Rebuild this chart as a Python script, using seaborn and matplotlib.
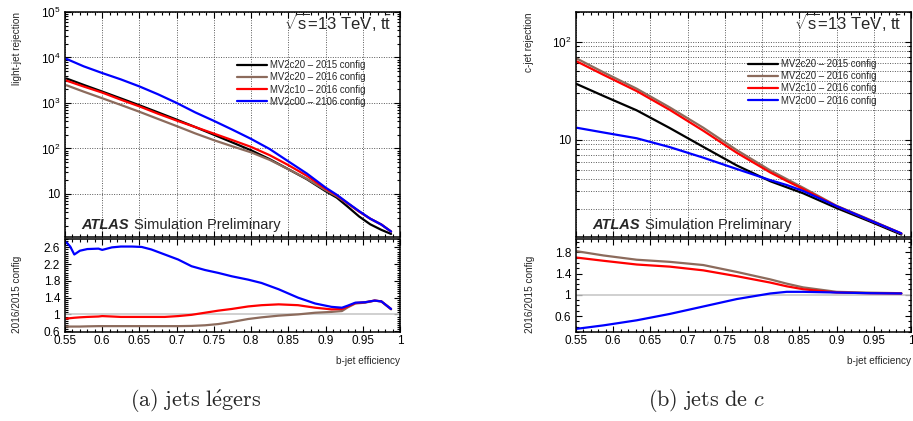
import numpy as np
import pandas as pd
import matplotlib
matplotlib.use("Agg")
import matplotlib.pyplot as plt
import seaborn as sns
from matplotlib.ticker import (FixedLocator, LogLocator, MultipleLocator,
                               NullFormatter, FuncFormatter)

# ---------------- data ----------------
labels_light = ["MV2c20 – 2015 config", "MV2c20 – 2016 config",
                "MV2c10 – 2016 config", "MV2c00 – 2106 config"]
labels_c = ["MV2c20 – 2015 config", "MV2c20 – 2016 config",
            "MV2c10 – 2016 config", "MV2c00 – 2016 config"]
line_colors = ["#000000", "#8c6b5c", "#ff0000", "#0000ff"]

# (a) light-jet rejection vs b-jet efficiency
eff_light = [0.552, 0.575, 0.60, 0.625, 0.65, 0.675, 0.70, 0.725, 0.75, 0.775, 0.80,
             0.825, 0.85, 0.875, 0.90, 0.915, 0.93, 0.945, 0.96, 0.975, 0.988]
light_c20_2015 = [3450, 2500, 1780, 1260, 890, 620, 430, 295, 200, 135, 91,
                  58, 35, 21, 11.5, 8.3, 5.2, 3.2, 2.15, 1.62, 1.32]
light_c20_2016 = [2450, 1775, 1270, 905, 640, 445, 310, 214, 152, 111, 82,
                  56, 35, 21.4, 12.1, 8.9, 6.1, 4.1, 2.84, 2.12, 1.48]
light_c10_2016 = [3100, 2300, 1690, 1180, 840, 580, 410, 295, 212, 152, 108,
                  71, 43, 25, 13.0, 9.3, 6.2, 4.1, 2.86, 2.12, 1.49]
light_c00_2016 = [9300, 6400, 4550, 3300, 2310, 1550, 1000, 620, 404, 258, 162,
                  97, 52, 28, 13.8, 9.6, 6.3, 4.2, 2.86, 2.12, 1.49]

# (a) ratio 2016/2015
eff_light_ratio = [0.552, 0.557, 0.5625, 0.57, 0.58, 0.595, 0.60, 0.613, 0.625, 0.64,
                   0.653, 0.666, 0.684, 0.702, 0.72, 0.738, 0.756, 0.774, 0.796, 0.814,
                   0.837, 0.863, 0.886, 0.908, 0.922, 0.93, 0.94, 0.953, 0.966, 0.975, 0.988]
ratio_light_c20 = [0.71, 0.71, 0.71, 0.71, 0.715, 0.72, 0.72, 0.72, 0.72, 0.72,
                   0.72, 0.72, 0.72, 0.72, 0.725, 0.74, 0.77, 0.82, 0.89, 0.93,
                   0.97, 1.00, 1.04, 1.06, 1.08, 1.17, 1.26, 1.28, 1.33, 1.31, 1.12]
ratio_light_c10 = [0.90, 0.91, 0.92, 0.93, 0.94, 0.95, 0.96, 0.95, 0.94, 0.94,
                   0.94, 0.94, 0.94, 0.96, 0.99, 1.04, 1.09, 1.13, 1.19, 1.22,
                   1.24, 1.22, 1.16, 1.12, 1.13, 1.19, 1.27, 1.29, 1.33, 1.31, 1.13]
ratio_light_c00 = [2.72, 2.62, 2.43, 2.52, 2.56, 2.57, 2.54, 2.60, 2.62, 2.62,
                   2.61, 2.55, 2.43, 2.31, 2.15, 2.06, 1.99, 1.91, 1.83, 1.75,
                   1.60, 1.40, 1.26, 1.18, 1.16, 1.21, 1.28, 1.29, 1.33, 1.31, 1.13]

# (b) c-jet rejection vs b-jet efficiency
eff_c = [0.551, 0.587, 0.6315, 0.676, 0.721, 0.766, 0.811, 0.833, 0.855, 0.90, 0.945, 0.987]
c_c20_2015 = [37, 28, 20, 13.2, 8.5, 5.5, 3.8, 3.3, 2.87, 2.03, 1.48, 1.09]
c_c20_2016 = [67.3, 48.7, 33.2, 21.4, 13.3, 7.87, 4.9, 4.0, 3.27, 2.14, 1.54, 1.12]
c_c10_2016 = [62.9, 45.9, 31.4, 20.2, 12.4, 7.4, 4.67, 3.83, 3.17, 2.12, 1.52, 1.12]
c_c00_2016 = [13.3, 11.9, 10.4, 8.45, 6.6, 5.06, 3.9, 3.48, 3.03, 2.12, 1.52, 1.12]

ratio_c_c20 = [1.82, 1.74, 1.66, 1.62, 1.56, 1.43, 1.29, 1.21, 1.14, 1.056, 1.04, 1.03]
ratio_c_c10 = [1.70, 1.64, 1.57, 1.53, 1.46, 1.35, 1.23, 1.16, 1.105, 1.043, 1.03, 1.025]
ratio_c_c00 = [0.36, 0.425, 0.52, 0.64, 0.78, 0.92, 1.025, 1.056, 1.056, 1.043, 1.03, 1.025]

ratio_ticks_light = [0.6, 1.0, 1.4, 1.8, 2.2, 2.6]
ratio_ticks_c = [0.6, 1.0, 1.4, 1.8]

# ---------------- style ----------------
sns.set_style("ticks")
plt.rcParams["font.family"] = ["Liberation Sans", "DejaVu Sans"]
plt.rcParams["mathtext.fontset"] = "custom"
plt.rcParams["mathtext.rm"] = "Liberation Sans"
plt.rcParams["mathtext.it"] = "Liberation Sans:italic"
plt.rcParams["mathtext.bf"] = "Liberation Sans:bold"
plt.rcParams["axes.linewidth"] = 1.1
plt.rcParams["axes.edgecolor"] = "black"

W, H = 913, 421
fig = plt.figure(figsize=(W / 100, H / 100), dpi=100)


def px_axes(x0, y0, x1, y1):
    return fig.add_axes([x0 / W, 1 - y1 / H, (x1 - x0) / W, (y1 - y0) / H])


ax_lt = px_axes(65, 12, 400, 237)
ax_lb = px_axes(65, 239, 400, 332)
ax_rt = px_axes(576, 12, 911, 237)
ax_rb = px_axes(576, 239, 911, 332)

TICK_FS = 8.5
LW = 1.6


def style_common(ax):
    ax.set_xlim(0.55, 1.0)
    ax.xaxis.set_major_locator(MultipleLocator(0.05))
    ax.xaxis.set_minor_locator(MultipleLocator(0.01))
    ax.tick_params(which="both", direction="in", top=True, right=True,
                   colors="black", labelsize=TICK_FS, width=0.8)
    ax.tick_params(which="major", length=4.5)
    ax.tick_params(which="minor", length=2.2)
    ax.set_xlabel("")
    ax.set_ylabel("")
    for s in ax.spines.values():
        s.set_linewidth(1.1)


def log_fmt(v, pos):
    if v <= 0:
        return ""
    e = int(round(np.log10(v)))
    if abs(v - 10 ** e) > 1e-6 * v:
        return ""
    if e == 1:
        return "10"
    return r"$10^{%d}$" % e


def top_panel(ax, eff, series, labels, ylim, minor_grid, legend_anchor, energy_x):
    for ys, lab, col in zip(series, labels, line_colors):
        df = pd.DataFrame({"eff": eff, "rej": ys})
        sns.lineplot(data=df, x="eff", y="rej", color=col, lw=LW, ax=ax,
                     label=lab, sort=False, estimator=None)
    ax.set_yscale("log")
    ax.set_ylim(*ylim)
    style_common(ax)
    ax.yaxis.set_major_locator(LogLocator(base=10, numticks=10))
    ax.yaxis.set_minor_locator(LogLocator(base=10, subs=np.arange(2, 10), numticks=20))
    ax.yaxis.set_major_formatter(FuncFormatter(log_fmt))
    ax.yaxis.set_minor_formatter(NullFormatter())
    ax.tick_params(axis="x", labelbottom=False)
    ax.grid(True, which="major", ls=(0, (1, 1.5)), color="0.35", lw=0.7)
    if minor_grid:
        ax.grid(True, which="minor", axis="y", ls=(0, (1, 1.5)), color="0.35", lw=0.7)
    leg = ax.legend(loc="upper left", bbox_to_anchor=legend_anchor, frameon=False,
                    fontsize=6.9, handlelength=3.1, handletextpad=0.35,
                    labelspacing=0.22, borderpad=0, borderaxespad=0)
    for l in leg.get_lines():
        l.set_linewidth(LW)
    ax.text(energy_x, 0.955, r"$\sqrt{\mathrm{s}}$=13 TeV, $\mathrm{t\bar{t}}$",
            transform=ax.transAxes, ha="right", va="center", fontsize=12)
    t = ax.text(0.05, 0.055, "ATLAS", transform=ax.transAxes, fontsize=10.5,
                fontweight="bold", fontstyle="italic", va="center", ha="left")
    ax.annotate("Simulation Preliminary", xy=(1, 0), xycoords=t, xytext=(3, 0),
                textcoords="offset points", fontsize=10.5, va="bottom", ha="left")


def ratio_panel(ax, eff, series, ylim, ticks, minor_step):
    ax.axhline(1.0, color="#c8c8c8", lw=1.2, zorder=1)
    for ys, col in zip(series, line_colors[1:]):
        df = pd.DataFrame({"eff": eff, "ratio": ys})
        sns.lineplot(data=df, x="eff", y="ratio", color=col, lw=LW, ax=ax,
                     sort=False, estimator=None, legend=False)
    ax.set_ylim(*ylim)
    style_common(ax)
    ax.yaxis.set_major_locator(FixedLocator(ticks))
    ax.yaxis.set_minor_locator(MultipleLocator(minor_step))
    ax.yaxis.set_major_formatter(FuncFormatter(lambda v, p: "%g" % round(v, 3)))
    ax.xaxis.set_major_formatter(FuncFormatter(lambda v, p: "%g" % round(v, 3)))
    ax.tick_params(axis="x", pad=2)


top_panel(ax_lt, eff_light,
          [light_c20_2015, light_c20_2016, light_c10_2016, light_c00_2016],
          labels_light, (1.13, 1e5), False, (0.513, 0.785), 0.976)
ratio_panel(ax_lb, eff_light_ratio,
            [ratio_light_c20, ratio_light_c10, ratio_light_c00],
            (0.58, 2.8), ratio_ticks_light, 0.05)

top_panel(ax_rt, eff_c, [c_c20_2015, c_c20_2016, c_c10_2016, c_c00_2016],
          labels_c, (1.03, 200), True, (0.513, 0.79), 0.973)
ratio_panel(ax_rb, eff_c, [ratio_c_c20, ratio_c_c10, ratio_c_c00],
            (0.3, 2.05), ratio_ticks_c, 0.1)

# axis titles (ROOT style placement)
AX_FS = 7.2
fig.text(17 / W, 1 - 12 / H, "light-jet rejection", rotation=90, ha="center",
         va="top", fontsize=AX_FS)
fig.text(17 / W, 1 - 256 / H, "2016/2015 config", rotation=90, ha="center",
         va="top", fontsize=AX_FS)
fig.text(529 / W, 1 - 12 / H, "c-jet rejection", rotation=90, ha="center",
         va="top", fontsize=AX_FS)
fig.text(530 / W, 1 - 256 / H, "2016/2015 config", rotation=90, ha="center",
         va="top", fontsize=AX_FS)
fig.text(400 / W, 1 - 361 / H, "b-jet efficiency", ha="right", va="center",
         fontsize=AX_FS)
fig.text(911 / W, 1 - 361 / H, "b-jet efficiency", ha="right", va="center",
         fontsize=AX_FS)

# sub-captions
fig.text(196 / W, 1 - 401 / H, r"$\mathrm{(a)\ jets\ l\acute{e}gers}$",
         ha="center", va="center", fontsize=16, math_fontfamily="cm")
fig.text(706 / W, 1 - 401 / H, r"$\mathrm{(b)\ jets\ de\ }c$",
         ha="center", va="center", fontsize=16, math_fontfamily="cm")

fig.savefig("out.png", dpi=100)
